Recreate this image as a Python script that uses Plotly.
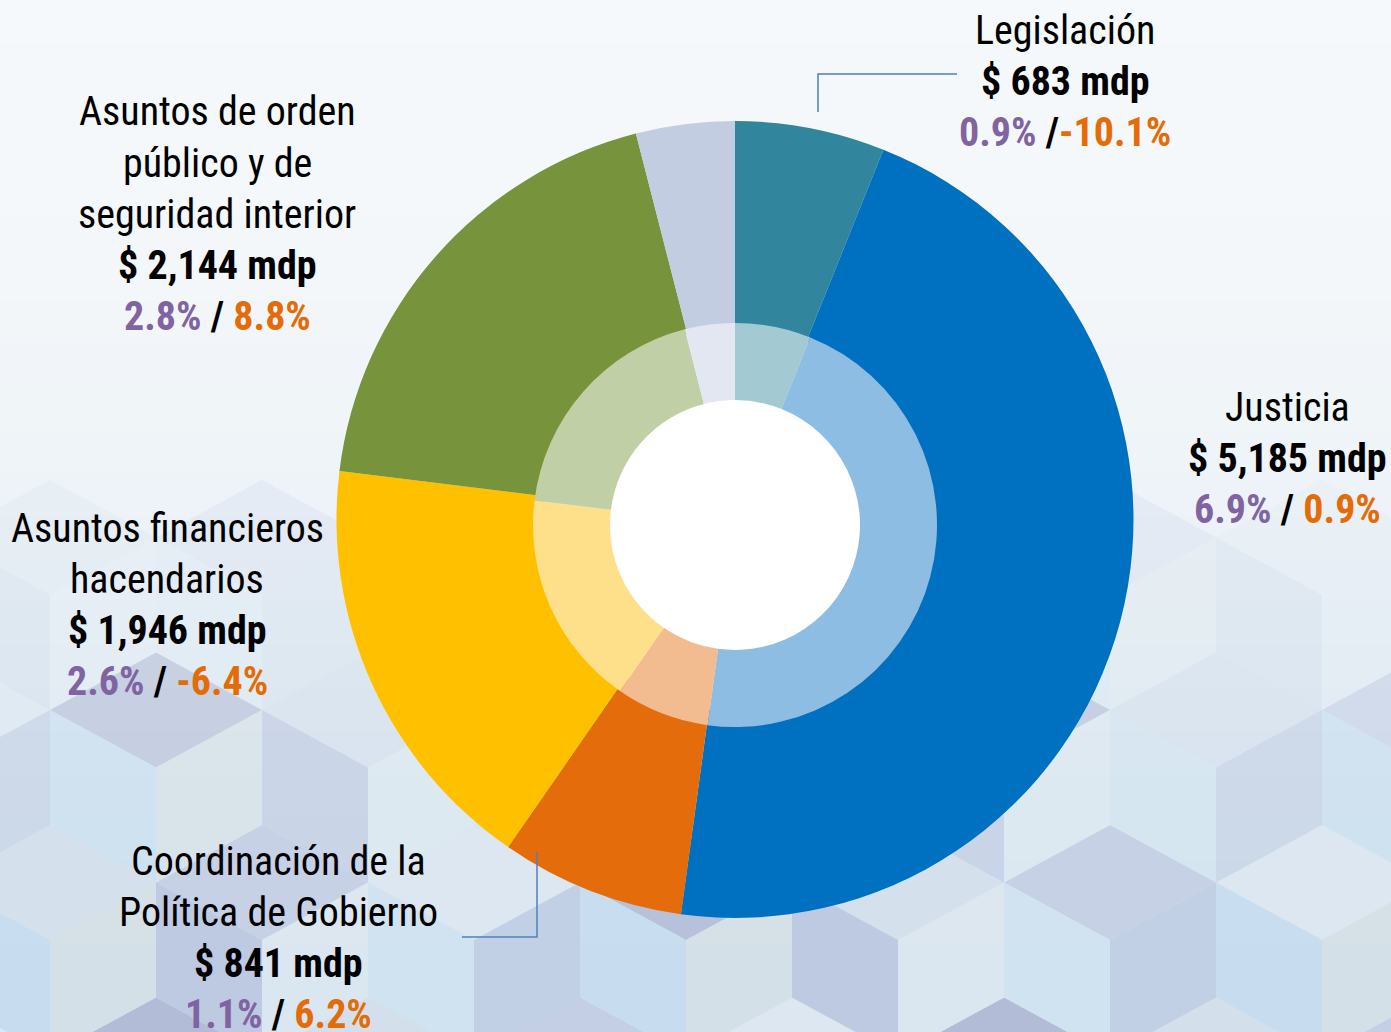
import plotly.graph_objects as go

# ---------------- data ----------------
categories = ["Legislación", "Justicia", "Coordinación de la Política de Gobierno",
              "Asuntos financieros hacendarios", "Asuntos de orden público y de seguridad interior",
              "Otros"]
values_mdp = [683, 5185, 841, 1946, 2144, 450]
share_pct = ["0.9%", "6.9%", "1.1%", "2.6%", "2.8%", None]
change_pct = ["-10.1%", "0.9%", "6.2%", "-6.4%", "8.8%", None]
label_lines = [
    ["Legislación"],
    ["Justicia"],
    ["Coordinación de la", "Política de Gobierno"],
    ["Asuntos financieros", "hacendarios"],
    ["Asuntos de orden", "público y de", "seguridad interior"],
    None,
]

# ---------------- styles ----------------
W, H = 1391, 1032
outer_colors = ["#31859C", "#0070C0", "#E46C0A", "#FFC000", "#77933C", "#C3CDE1"]
inner_colors = ["#A3CAD3", "#8DBDE2", "#F3BC90", "#FFE08A", "#C1CFA6", "#E3E7F1"]
PURPLE = "#8064A2"
ORANGE = "#E36C09"
FONT = "Liberation Sans Narrow, Arial Narrow, Roboto Condensed, DejaVu Sans Condensed, sans-serif"
FS = 40
LINE = 51

cx, cy = 735, 519.5
cy_in = 525
R_out, R_hole_out, R_mid, R_in = 398.5, 192, 202, 125


def px(x):
    return x / W


def py(y):
    return 1 - y / H


fig = go.Figure()
fig.add_trace(go.Pie(
    labels=categories, values=values_mdp, sort=False, direction="clockwise", rotation=0,
    hole=R_hole_out / R_out, marker=dict(colors=outer_colors, line=dict(width=0)),
    textinfo="none", hoverinfo="label+value", showlegend=False,
    domain=dict(x=[px(cx - R_out), px(cx + R_out)], y=[py(cy + R_out), py(cy - R_out)]),
))
fig.add_trace(go.Pie(
    labels=categories, values=values_mdp, sort=False, direction="clockwise", rotation=0,
    hole=R_in / R_mid, marker=dict(colors=inner_colors, line=dict(width=0)),
    textinfo="none", hoverinfo="label+value", showlegend=False,
    domain=dict(x=[px(cx - R_mid), px(cx + R_mid)], y=[py(cy_in + R_mid), py(cy_in - R_mid)]),
))

# ---------------- background ----------------
shapes = []
bands = 24
top_c = (246, 249, 251)
bot_c = (214, 228, 240)
for i in range(bands):
    t = i / (bands - 1)
    c = tuple(int(top_c[k] + (bot_c[k] - top_c[k]) * t ** 1.8) for k in range(3))
    shapes.append(dict(type="rect", xref="paper", yref="paper", layer="below",
                       x0=0, x1=1, y0=py((i + 1) * H / bands), y1=py(i * H / bands),
                       fillcolor="rgb(%d,%d,%d)" % c, line=dict(width=0)))

top_faces = ["#B3BCD6", "#D3E0EC", "#C4CEE4", "#DCE7F1"]
left_faces = ["#C5DCEE", "#BAC6DF", "#CFE2EF"]
right_faces = ["#D4DFE5", "#DBE7F0", "#BFCDE3"]
a, s = 106, 115
rows = [(1112.5, 1004, 1.0), (940, 1110, 0.9), (767.5, 1004, 0.6), (595, 1110, 0.2)]


def poly(pts):
    return "M " + " L ".join("%.5f,%.5f" % (px(x), py(y)) for x, y in pts) + " Z"


for ri, (ycen, xref0, op) in enumerate(rows):
    for k in range(-6, 8):
        xc = xref0 + 212 * k
        if xc < -120 or xc > W + 120:
            continue
        T = (xc, ycen - s); UR = (xc + a, ycen - s / 2); LR = (xc + a, ycen + s / 2)
        B = (xc, ycen + s); LL = (xc - a, ycen + s / 2); UL = (xc - a, ycen - s / 2); C = (xc, ycen)
        idx = (k + 2 * ri) % 12
        for pts, pal in (([T, UR, C, UL], top_faces), ([UL, C, B, LL], left_faces), ([C, UR, LR, B], right_faces)):
            shapes.append(dict(type="path", xref="paper", yref="paper", layer="below",
                               path=poly(pts), fillcolor=pal[idx % len(pal)], opacity=op,
                               line=dict(width=0)))

# white centre of the donut
shapes.append(dict(type="circle", xref="paper", yref="paper", layer="below",
                   x0=px(cx - R_in - 2), x1=px(cx + R_in + 2), y0=py(cy_in + R_in + 2), y1=py(cy_in - R_in - 2),
                   fillcolor="#FFFFFF", line=dict(width=0)))

# leader lines
LEAD = "#4F81BD"
shapes.append(dict(type="path", xref="paper", yref="paper",
                   path="M %f,%f L %f,%f L %f,%f" % (px(818), py(112), px(818), py(74), px(957), py(74)),
                   line=dict(color=LEAD, width=1.5)))
shapes.append(dict(type="path", xref="paper", yref="paper",
                   path="M %f,%f L %f,%f L %f,%f" % (px(537), py(852), px(537), py(937), px(462), py(937)),
                   line=dict(color=LEAD, width=1.5)))

# ---------------- labels ----------------
label_pos = {0: (1065, 30), 1: (1287, 407), 2: (278, 861), 3: (167, 528), 4: (217, 112)}
annotations = []
for i, (x0, y0) in label_pos.items():
    lines = list(label_lines[i])
    lines.append("<b>$ {:,} mdp</b>".format(values_mdp[i]))
    sep = " /" if i == 0 else " / "
    lines.append("<b><span style='color:%s'>%s</span>%s<span style='color:%s'>%s</span></b>"
                 % (PURPLE, share_pct[i], sep, ORANGE, change_pct[i]))
    for j, txt in enumerate(lines):
        annotations.append(dict(x=px(x0), y=py(y0 + j * LINE), xref="paper", yref="paper",
                                text=txt, showarrow=False, xanchor="center", yanchor="middle",
                                font=dict(family=FONT, size=FS, color="#000000")))

fig.update_layout(
    width=W, height=H, margin=dict(l=0, r=0, t=0, b=0),
    paper_bgcolor="#F4F7FA", plot_bgcolor="rgba(0,0,0,0)",
    shapes=shapes, annotations=annotations, showlegend=False,
)
fig.write_html("out.html", config={"displayModeBar": False},
               post_script="document.body.style.margin='0';document.body.style.overflow='hidden';")
